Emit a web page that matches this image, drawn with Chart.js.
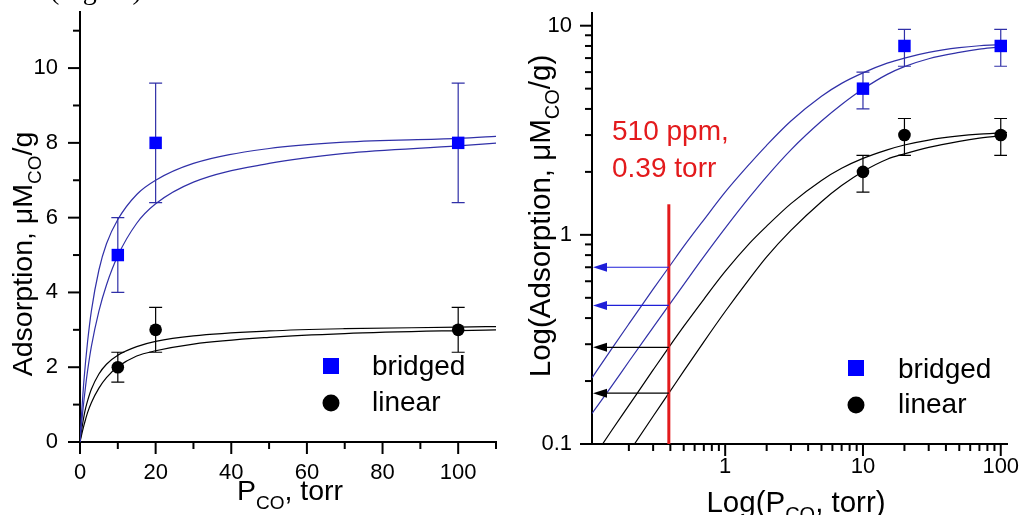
<!DOCTYPE html>
<html lang="en">
<head>
<meta charset="UTF-8">
<title>CO adsorption isotherms</title>
<style>
  body { margin: 0; background: #ffffff; }
  #wrap { position: relative; width: 1022px; height: 515px; overflow: hidden; background: #fff; }
  #leftBox { position: absolute; left: 0; top: 0; width: 520px; height: 515px; }
  #rightBox { position: absolute; left: 520px; top: 0; width: 502px; height: 515px; }
</style>
</head>
<body>
<div id="wrap">
  <div id="leftBox"><canvas id="linChart" width="520" height="515"></canvas></div>
  <div id="rightBox"><canvas id="logChart" width="502" height="515"></canvas></div>
</div>

<script src="https://cdn.jsdelivr.net/npm/chart.js"></script>
<script>
// measured points (P in torr, adsorption in uM/g)
const pressure = [10, 20, 100];
const bridged = [5, 8, 8];
const bridgedErr = [1, 1.6, 1.6];
const linear = [2, 3, 3];
const linearErr = [0.4, 0.6, 0.6];

// fitted curves
const fitP = [0.108, 0.15, 0.2, 0.3, 0.39, 0.5, 0.7, 1, 1.5, 2, 3, 5, 7, 10, 15, 20, 30, 50, 70, 100, 111];
const fitBridgedHi = [0.207, 0.285, 0.375, 0.55, 0.70, 0.88, 1.18, 1.6, 2.18, 2.68, 3.5, 4.6, 5.3, 5.95, 6.62, 7.0, 7.45, 7.85, 8.02, 8.12, 8.18];
const fitBridgedLo = [0.14, 0.189, 0.248, 0.361, 0.46, 0.578, 0.786, 1.076, 1.513, 1.9, 2.55, 3.5, 4.2, 4.98, 5.85, 6.37, 6.95, 7.45, 7.72, 7.92, 8.0];
const fitLinearHi = [0.084, 0.116, 0.153, 0.226, 0.29, 0.365, 0.492, 0.668, 0.91, 1.1, 1.41, 1.82, 2.08, 2.32, 2.55, 2.69, 2.84, 2.97, 3.03, 3.07, 3.09];
const fitLinearLo = [0.0496, 0.0687, 0.0912, 0.1357, 0.175, 0.223, 0.308, 0.43, 0.616, 0.785, 1.05, 1.44, 1.72, 2.01, 2.3, 2.44, 2.62, 2.8, 2.9, 2.98, 3.0];

// 510 ppm marker and the read-off levels
const markerP = 0.39;
const markerSpan = [0.1, 1.4];
const arrowLevels = [0.70, 0.46, 0.29, 0.175];
const arrowKinds = ['bridged', 'bridged', 'linear', 'linear'];

// tick positions and labels
const linXTicks = [0, 10, 20, 30, 40, 50, 60, 70, 80, 90, 100, 110];
const linXLabels = [0, 20, 40, 60, 80, 100];
const linYTicks = [0, 1, 2, 3, 4, 5, 6, 7, 8, 9, 10, 11];
const linYLabels = [0, 2, 4, 6, 8, 10];
const logXTicks = [0.2, 0.3, 0.4, 0.5, 0.6, 0.7, 0.8, 0.9, 1, 2, 3, 4, 5, 6, 7, 8, 9, 10, 20, 30, 40, 50, 60, 70, 80, 90, 100];
const logXLabels = [1, 10, 100];
const logYTicks = [0.1, 0.2, 0.3, 0.4, 0.5, 0.6, 0.7, 0.8, 0.9, 1, 2, 3, 4, 5, 6, 7, 8, 9, 10];
const logYLabels = [0.1, 1, 10];

const BLUE = '#0000ff';
const CURVE_BLUE = '#3030a8';
const RED = '#e31a1c';
const SANS = "'Liberation Sans', Arial, sans-serif";

function toXY(xs, ys) {
  return xs.map((x, i) => ({ x: x, y: ys[i] }));
}

function curve(data, color) {
  return {
    data: data, showLine: true, pointRadius: 0, borderColor: color, borderWidth: 1.2,
    cubicInterpolationMode: 'monotone', fill: false
  };
}

function drawTicks(ctx, scale, list, isMajor) {
  ctx.save();
  ctx.strokeStyle = '#000';
  ctx.lineWidth = 2;
  list.forEach(v => {
    const len = isMajor(v) ? 12 : 7;
    const p = scale.getPixelForValue(v);
    ctx.beginPath();
    if (scale.isHorizontal()) {
      ctx.moveTo(p, scale.top);
      ctx.lineTo(p, scale.top + len);
    } else {
      ctx.moveTo(scale.right, p);
      ctx.lineTo(scale.right - len, p);
    }
    ctx.stroke();
  });
  ctx.restore();
}

// text with a subscript part: parts = [[text, isSub], ...]
function drawRichText(ctx, parts, x, y, size, vertical) {
  ctx.save();
  ctx.fillStyle = '#000';
  ctx.textBaseline = 'alphabetic';
  ctx.textAlign = 'left';
  const subSize = Math.round(size * 0.68);
  let total = 0;
  parts.forEach(p => {
    ctx.font = (p[1] ? subSize : size) + 'px ' + SANS;
    total += ctx.measureText(p[0]).width;
  });
  ctx.translate(x, y);
  if (vertical) ctx.rotate(-Math.PI / 2);
  let cx = -total / 2;
  parts.forEach(p => {
    ctx.font = (p[1] ? subSize : size) + 'px ' + SANS;
    ctx.fillText(p[0], cx, p[1] ? size * 0.3 : 0);
    cx += ctx.measureText(p[0]).width;
  });
  ctx.restore();
}

function drawErrorBars(chart, values, errs, color) {
  const ctx = chart.ctx;
  const xs = chart.scales.x, ys = chart.scales.y;
  const area = chart.chartArea;
  ctx.save();
  ctx.beginPath();
  ctx.rect(area.left, area.top - 10, area.right - area.left, area.bottom - area.top + 10);
  ctx.clip();
  ctx.strokeStyle = color;
  ctx.lineWidth = 1.2;
  pressure.forEach((p, i) => {
    const px = xs.getPixelForValue(p);
    const top = ys.getPixelForValue(values[i] + errs[i]);
    const bot = ys.getPixelForValue(values[i] - errs[i]);
    ctx.beginPath();
    ctx.moveTo(px, top); ctx.lineTo(px, bot);
    ctx.moveTo(px - 6.5, top); ctx.lineTo(px + 6.5, top);
    ctx.moveTo(px - 6.5, bot); ctx.lineTo(px + 6.5, bot);
    ctx.stroke();
  });
  ctx.restore();
}

function drawLegend(ctx, mx, y1, y2, tx, b1, b2) {
  ctx.save();
  ctx.fillStyle = BLUE;
  ctx.fillRect(mx - 8, y1 - 8, 16, 16);
  ctx.fillStyle = '#000';
  ctx.beginPath();
  ctx.arc(mx, y2, 8.5, 0, Math.PI * 2);
  ctx.fill();
  ctx.font = '28px ' + SANS;
  ctx.textAlign = 'left';
  ctx.textBaseline = 'alphabetic';
  ctx.fillText('bridged', tx, b1);
  ctx.fillText('linear', tx, b2);
  ctx.restore();
}

function axisBase(min, max, type, labels, pad, fit, horizontal) {
  return {
    type: type, min: min, max: max,
    grid: { display: false, drawTicks: false },
    border: { display: true, color: '#000', width: 2 },
    ticks: {
      autoSkip: false, maxRotation: 0, padding: pad, color: '#000',
      font: { family: SANS, size: 22 },
      callback: (v, i) => String(labels[i])
    },
    afterBuildTicks: s => { s.ticks = labels.map(v => ({ value: v })); },
    afterFit: s => {
      if (horizontal) s.height = fit; else s.width = fit;
      s.paddingTop = 0; s.paddingBottom = 0; s.paddingLeft = 0; s.paddingRight = 0;
    }
  };
}

const linExtras = {
  id: 'linExtras',
  beforeDatasetsDraw(chart) {
    drawErrorBars(chart, bridged, bridgedErr, CURVE_BLUE);
    drawErrorBars(chart, linear, linearErr, '#000');
  },
  afterDraw(chart) {
    const ctx = chart.ctx;
    drawTicks(ctx, chart.scales.x, linXTicks, v => v % 20 === 0);
    drawTicks(ctx, chart.scales.y, linYTicks, v => v % 2 === 0);
    drawRichText(ctx, [['Adsorption, \u03bcM', false], ['CO', true], ['/g', false]], 32, 254, 28.5, true);
    drawRichText(ctx, [['P', false], ['CO', true], [', torr', false]], 290, 500, 28.5, false);
    drawLegend(ctx, 331, 366, 403, 372, 375, 411);
    ctx.save();
    ctx.font = '28px "Liberation Serif", "Times New Roman", serif';
    ctx.fillStyle = '#000';
    ctx.textAlign = 'left';
    ctx.textBaseline = 'alphabetic';
    ctx.fillText('(Figure)', 50, -1);
    ctx.restore();
  }
};

const logExtras = {
  id: 'logExtras',
  beforeDatasetsDraw(chart) {
    drawErrorBars(chart, bridged, bridgedErr, CURVE_BLUE);
    drawErrorBars(chart, linear, linearErr, '#000');
  },
  afterDatasetsDraw(chart) {
    const ctx = chart.ctx;
    const xs = chart.scales.x, ys = chart.scales.y;
    const x0 = xs.getPixelForValue(markerP);
    const left = chart.chartArea.left + 1;
    ctx.save();
    arrowLevels.forEach((lv, i) => {
      const py = ys.getPixelForValue(lv);
      const col = arrowKinds[i] === 'bridged' ? '#1f1fd8' : '#000';
      ctx.strokeStyle = col;
      ctx.fillStyle = col;
      ctx.lineWidth = 1.2;
      ctx.beginPath();
      ctx.moveTo(x0, py);
      ctx.lineTo(left + 12, py);
      ctx.stroke();
      ctx.beginPath();
      ctx.moveTo(left, py);
      ctx.lineTo(left + 14, py - 4.5);
      ctx.lineTo(left + 14, py + 4.5);
      ctx.closePath();
      ctx.fill();
    });
    ctx.restore();
  },
  afterDraw(chart) {
    const ctx = chart.ctx;
    drawTicks(ctx, chart.scales.x, logXTicks, v => logXLabels.includes(v));
    drawTicks(ctx, chart.scales.y, logYTicks, v => logYLabels.includes(v));
    drawRichText(ctx, [['Log(Adsorption, \u03bcM', false], ['CO', true], ['/g)', false]], 30, 216, 29.5, true);
    drawRichText(ctx, [['Log(P', false], ['CO', true], [', torr)', false]], 276, 512, 29.5, false);
    drawLegend(ctx, 336, 368, 405, 378, 378, 413);
    ctx.save();
    ctx.font = '28px ' + SANS;
    ctx.fillStyle = RED;
    ctx.textAlign = 'left';
    ctx.textBaseline = 'alphabetic';
    ctx.fillText('510 ppm,', 92, 140);
    ctx.fillText('0.39 torr', 92, 177);
    ctx.restore();
  }
};

const baseOptions = {
  responsive: false,
  animation: false,
  events: [],
  plugins: { legend: { display: false }, tooltip: { enabled: false } }
};

new Chart(document.getElementById('linChart'), {
  type: 'scatter',
  data: {
    datasets: [
      { data: toXY(pressure, bridged), pointStyle: 'rect', pointRadius: 8.8, backgroundColor: BLUE, borderWidth: 0 },
      { data: toXY(pressure, linear), pointStyle: 'circle', pointRadius: 6.3, backgroundColor: '#000', borderWidth: 0 },
      curve([{ x: 0, y: 0 }].concat(toXY(fitP, fitBridgedHi)), CURVE_BLUE),
      curve([{ x: 0, y: 0 }].concat(toXY(fitP, fitBridgedLo)), CURVE_BLUE),
      curve([{ x: 0, y: 0 }].concat(toXY(fitP, fitLinearHi)), '#000'),
      curve([{ x: 0, y: 0 }].concat(toXY(fitP, fitLinearLo)), '#000')
    ]
  },
  options: Object.assign({}, baseOptions, {
    layout: { padding: { left: 0, top: 12, right: 24, bottom: 0 } },
    scales: {
      x: axisBase(0, 110, 'linear', linXLabels, 18, 73, true),
      y: axisBase(0, 11.5, 'linear', linYLabels, 22, 80, false)
    }
  }),
  plugins: [linExtras]
});

new Chart(document.getElementById('logChart'), {
  type: 'scatter',
  data: {
    datasets: [
      { data: toXY(pressure, bridged), pointStyle: 'rect', pointRadius: 8.8, backgroundColor: BLUE, borderWidth: 0, clip: 0 },
      { data: toXY(pressure, linear), pointStyle: 'circle', pointRadius: 6.3, backgroundColor: '#000', borderWidth: 0, clip: 0 },
      { data: [{ x: markerP, y: markerSpan[0] }, { x: markerP, y: markerSpan[1] }], showLine: true, pointRadius: 0, borderColor: RED, borderWidth: 3 },
      curve(toXY(fitP, fitBridgedHi), CURVE_BLUE),
      curve(toXY(fitP, fitBridgedLo), CURVE_BLUE),
      curve(toXY(fitP, fitLinearHi), '#000'),
      curve(toXY(fitP, fitLinearLo), '#000')
    ]
  },
  options: Object.assign({}, baseOptions, {
    layout: { padding: { left: 0, top: 13, right: 15, bottom: 0 } },
    scales: {
      x: axisBase(0.108, 111, 'logarithmic', logXLabels, 10, 71, true),
      y: axisBase(0.1, 11.5, 'logarithmic', logYLabels, 20, 72, false)
    }
  }),
  plugins: [logExtras]
});
</script>
</body>
</html>
